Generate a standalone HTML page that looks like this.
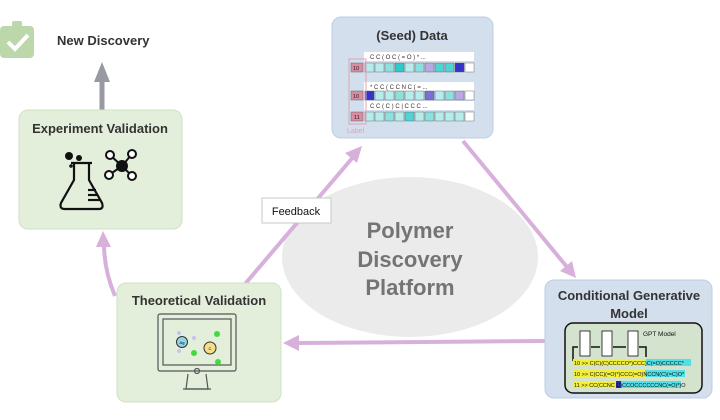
<!DOCTYPE html>
<html><head><meta charset="utf-8"><style>
html,body{margin:0;padding:0;background:#fff;}
svg{display:block;font-family:"Liberation Sans",sans-serif;}
</style></head><body>
<svg width="720" height="420" viewBox="0 0 720 420" xmlns="http://www.w3.org/2000/svg">
<defs>
<marker id="pk" markerWidth="8" markerHeight="8" refX="6" refY="4" orient="auto" markerUnits="userSpaceOnUse" viewBox="0 0 8 8">
</marker>
</defs>
<!-- ellipse -->
<ellipse cx="410" cy="257" rx="128" ry="80" fill="#ebebeb"/>
<text x="410" y="238" font-size="22" font-weight="bold" fill="#747474" text-anchor="middle">Polymer</text>
<text x="410" y="267" font-size="22" font-weight="bold" fill="#747474" text-anchor="middle">Discovery</text>
<text x="410" y="295" font-size="22" font-weight="bold" fill="#747474" text-anchor="middle">Platform</text>

<!-- pink arrows -->
<g stroke="#d8b0dc" stroke-width="4" fill="none">
<line x1="245" y1="284" x2="354" y2="156"/>
<line x1="463" y1="141" x2="567" y2="267"/>
<line x1="545" y1="341" x2="298" y2="343"/>
<path d="M115 296 Q104 270 104 244"/>
</g>
<g fill="#d8b0dc">
<polygon points="362,146 345,153 357,163"/>
<polygon points="576,278 560,271 572,261"/>
<polygon points="283,343 299,335 299,351"/>
<polygon points="103,231 96,247 111,247"/>
</g>

<!-- Feedback -->
<rect x="262" y="198" width="69" height="25" fill="#fff" stroke="#c8c8c8"/>
<text x="296" y="215" font-size="11" fill="#111" text-anchor="middle">Feedback</text>

<!-- New discovery -->
<rect x="0" y="26" width="34" height="32" rx="4" fill="#bcd8ab"/>
<rect x="12" y="21" width="10" height="7" rx="2" fill="#bcd8ab"/>
<polyline points="8,42 15,49 28,35" stroke="#fff" stroke-width="4" fill="none"/>
<text x="57" y="45" font-size="13" font-weight="bold" fill="#333">New Discovery</text>
<line x1="102" y1="110" x2="102" y2="80" stroke="#979aa3" stroke-width="5"/>
<polygon points="102,62 94,82 110,82" fill="#979aa3"/>

<!-- Experiment validation -->
<rect x="19" y="110" width="163" height="119" rx="9" fill="#e3eedb" stroke="#cfe2c2"/>
<text x="100" y="133" font-size="13" font-weight="bold" fill="#333" text-anchor="middle">Experiment Validation</text>
<g stroke="#111" stroke-width="2.2" fill="none">
<path d="M74 163 L74 180 L61 203 Q59 209 65 209 L99 209 Q104 209 102 203 L89 180 L89 163"/>
<line x1="71" y1="163" x2="92" y2="163"/>
<line x1="88" y1="190" x2="96" y2="190"/><line x1="88" y1="195" x2="98" y2="195"/><line x1="88" y1="200" x2="100" y2="200"/>
</g>
<circle cx="69" cy="156" r="4" fill="#111"/><circle cx="79" cy="158" r="3" fill="#111"/><circle cx="71" cy="166" r="1.8" fill="#111"/>
<g stroke="#111" stroke-width="2" fill="#fff">
<line x1="122" y1="166" x2="110" y2="155"/><line x1="122" y1="166" x2="132" y2="154"/><line x1="122" y1="166" x2="109" y2="175"/><line x1="122" y1="166" x2="132" y2="176"/>
<circle cx="110" cy="155" r="4"/><circle cx="132" cy="154" r="4"/><circle cx="109" cy="175" r="4"/><circle cx="132" cy="176" r="4"/>
</g>
<circle cx="122" cy="166" r="6" fill="#111"/>

<!-- Seed data -->
<rect x="332" y="17" width="161" height="121" rx="9" fill="#d4dfee" stroke="#bccee3"/>
<text x="412" y="40" font-size="13" font-weight="bold" fill="#333" text-anchor="middle">(Seed) Data</text>
<g font-size="6" fill="#333">
<rect x="364" y="52" width="110" height="9" fill="#fff"/>
<text x="370" y="59">C  C  (  O  C  (  =  O  )  *  ...</text>
<rect x="364" y="82" width="110" height="9" fill="#fff"/>
<text x="370" y="89">*  C  C  (  C  C  N  C  (  =  ...</text>
<rect x="364" y="101" width="110" height="9" fill="#fff"/>
<text x="370" y="108">C  C  (  C  )  C  |  C  C  C  ...</text>
</g>
<g stroke="#666" stroke-width="0.5">
<rect x="351" y="63" width="12" height="9" fill="#d98ca3"/>
<rect x="351" y="91" width="12" height="9" fill="#d98ca3"/>
<rect x="351" y="112" width="12" height="9" fill="#d98ca3"/>
</g>
<g font-size="5.5" fill="#222">
<text x="353" y="70">10</text><text x="353" y="98">10</text><text x="354" y="119">11</text>
</g>
<g stroke="#555" stroke-width="0.4">
<rect x="365" y="63" width="9" height="9" fill="#b6ecec"/><rect x="375" y="63" width="9" height="9" fill="#b6ecec"/><rect x="385" y="63" width="9" height="9" fill="#8ee0e0"/><rect x="395" y="63" width="9" height="9" fill="#2ec9c9"/><rect x="405" y="63" width="9" height="9" fill="#b6ecec"/><rect x="415" y="63" width="9" height="9" fill="#8ee0e0"/><rect x="425" y="63" width="9" height="9" fill="#b7a9e6"/><rect x="435" y="63" width="9" height="9" fill="#4fd3d3"/><rect x="445" y="63" width="9" height="9" fill="#4fd3d3"/><rect x="455" y="63" width="9" height="9" fill="#3434c8"/><rect x="465" y="63" width="9" height="9" fill="#fff"/>
<rect x="365" y="91" width="9" height="9" fill="#3434c8"/><rect x="375" y="91" width="9" height="9" fill="#b6ecec"/><rect x="385" y="91" width="9" height="9" fill="#b6ecec"/><rect x="395" y="91" width="9" height="9" fill="#8ee0e0"/><rect x="405" y="91" width="9" height="9" fill="#b6ecec"/><rect x="415" y="91" width="9" height="9" fill="#b6ecec"/><rect x="425" y="91" width="9" height="9" fill="#7a6fd6"/><rect x="435" y="91" width="9" height="9" fill="#b6ecec"/><rect x="445" y="91" width="9" height="9" fill="#8ee0e0"/><rect x="455" y="91" width="9" height="9" fill="#b7a9e6"/><rect x="465" y="91" width="9" height="9" fill="#fff"/>
<rect x="365" y="112" width="9" height="9" fill="#b6ecec"/><rect x="375" y="112" width="9" height="9" fill="#b6ecec"/><rect x="385" y="112" width="9" height="9" fill="#8ee0e0"/><rect x="395" y="112" width="9" height="9" fill="#b6ecec"/><rect x="405" y="112" width="9" height="9" fill="#4fd3d3"/><rect x="415" y="112" width="9" height="9" fill="#b6ecec"/><rect x="425" y="112" width="9" height="9" fill="#8ee0e0"/><rect x="435" y="112" width="9" height="9" fill="#b6ecec"/><rect x="445" y="112" width="9" height="9" fill="#b6ecec"/><rect x="455" y="112" width="9" height="9" fill="#b6ecec"/><rect x="465" y="112" width="9" height="9" fill="#fff"/>
</g>
<rect x="349" y="59" width="17" height="65" fill="none" stroke="#e0a0b8" stroke-width="1"/>
<text x="347" y="133" font-size="7" fill="#e0a0b8">Label</text>

<!-- Conditional Generative Model -->
<rect x="545" y="280" width="167" height="118" rx="9" fill="#d4dfee" stroke="#bccee3"/>
<text x="629" y="300" font-size="13" font-weight="bold" fill="#333" text-anchor="middle">Conditional Generative</text>
<text x="629" y="318" font-size="13" font-weight="bold" fill="#333" text-anchor="middle">Model</text>
<rect x="565" y="323" width="137" height="70" rx="8" fill="#d3e3cd" stroke="#111" stroke-width="1.5"/>
<text x="643" y="336" font-size="6.5" fill="#111">GPT Model</text>
<g stroke="#111" fill="#fff" stroke-width="0.8">
<rect x="580" y="331" width="10" height="25"/><rect x="602" y="331" width="10" height="25"/><rect x="628" y="331" width="10" height="25"/>
</g>
<g stroke="#111" stroke-width="1.5" fill="none">
<polyline points="573,361 573,347 578,347"/><line x1="591" y1="347" x2="600" y2="347"/><line x1="613" y1="347" x2="626" y2="347"/><polyline points="639,347 646,347 646,357"/>
</g>
<g font-size="5.5" fill="#111">
<rect x="573" y="359" width="73" height="7" fill="#f4f03a"/><rect x="646" y="359" width="45" height="7" fill="#4fe0e8"/>
<text x="574" y="365">10 &gt;&gt; C(C)(C)CCCCO*)CCC)C(=O)CCCCC*</text>
<rect x="573" y="370" width="72" height="7" fill="#f4f03a"/><rect x="645" y="370" width="40" height="7" fill="#4fe0e8"/>
<text x="574" y="376">10 &gt;&gt; C(CC)(=O)*)CCC(=O)NCCN(C)(=C)O*</text>
<rect x="573" y="381" width="43" height="7" fill="#f4f03a"/><rect x="616" y="381" width="5" height="7" fill="#2a2a9a"/><rect x="621" y="381" width="60" height="7" fill="#4fe0e8"/>
<text x="574" y="387">11 &gt;&gt; CC(CCNC  C)CCOCCCCCCNC(=O)*)O</text>
</g>

<!-- Theoretical validation -->
<rect x="117" y="283" width="164" height="119" rx="9" fill="#e3eedb" stroke="#cfe2c2"/>
<text x="199" y="305" font-size="13" font-weight="bold" fill="#333" text-anchor="middle">Theoretical Validation</text>
<g stroke="#555" fill="none" stroke-width="1.2">
<rect x="158" y="314" width="78" height="57" rx="2"/>
<rect x="163" y="319" width="68" height="46"/>
<circle cx="197" cy="371" r="2.5"/>
<path d="M188 374 L186 389 L208 389 L206 374"/>
<line x1="183" y1="389" x2="211" y2="389"/>
</g>
<circle cx="179" cy="333" r="2" fill="#c9c2ef"/><circle cx="194" cy="338" r="2" fill="#c9c2ef"/><circle cx="179" cy="351" r="2" fill="#c9c2ef"/>
<circle cx="182" cy="342" r="5.5" fill="#8fd6e6" stroke="#333" stroke-width="1"/>
<text x="182" y="344" font-size="4" text-anchor="middle">Ag</text>
<circle cx="210" cy="348" r="6" fill="#f5dd8a" stroke="#333" stroke-width="1"/>
<text x="210" y="350" font-size="4" text-anchor="middle">C</text>
<circle cx="217" cy="334" r="3" fill="#3fdb3f"/><circle cx="194" cy="353" r="3" fill="#3fdb3f"/><circle cx="218" cy="362" r="3" fill="#3fdb3f"/>
</svg>
</body></html>
